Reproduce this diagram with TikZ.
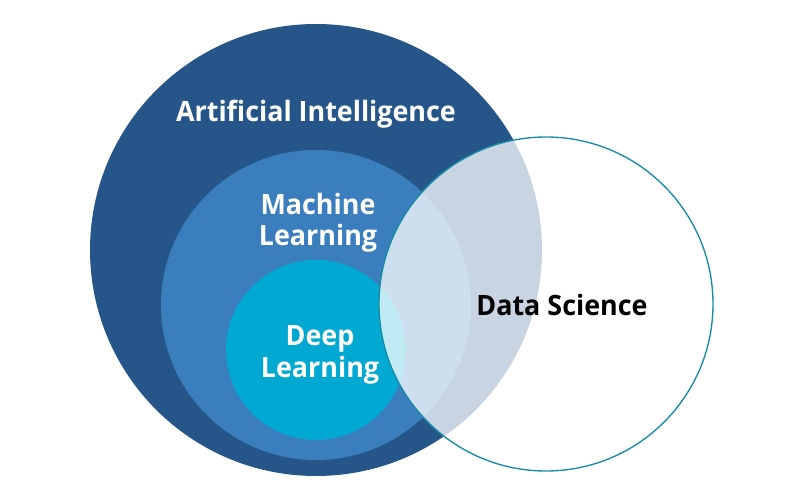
\documentclass[tikz,border=0pt]{standalone}
\usepackage{fontspec}
\setmainfont{Open Sans}
\definecolor{aiblue}{RGB}{38,86,137}
\definecolor{mlblue}{RGB}{58,126,190}
\definecolor{dlblue}{RGB}{0,168,210}
\definecolor{dsline}{RGB}{20,140,165}
\tikzset{
  settext/.style={text=white, align=center, xscale=0.96, transform shape,
    font=\fontsize{21}{23.5}\selectfont\bfseries},
}
\begin{document}
\begin{tikzpicture}[x=0.75pt,y=0.75pt]
\useasboundingbox (0,0) rectangle (800,500);
% AI
\fill[aiblue] (316,250) circle (226);
% ML
\fill[mlblue] (316,195) circle (155);
% DL
\fill[dlblue] (316,150) circle (90);
% Data Science
\draw[dsline, line width=1pt, fill=white, fill opacity=0.75] (546,196) circle (167);

\node[settext] (ai) at (316,386) {Artificial Intelligence};
\node[settext] (ml) at (318,277) {Machine\\Learning};
\node[settext] (dl) at (320,145) {Deep\\Learning};
\node[settext, text=black] (ds) at (562,195) {Data Science};
\end{tikzpicture}
\end{document}
